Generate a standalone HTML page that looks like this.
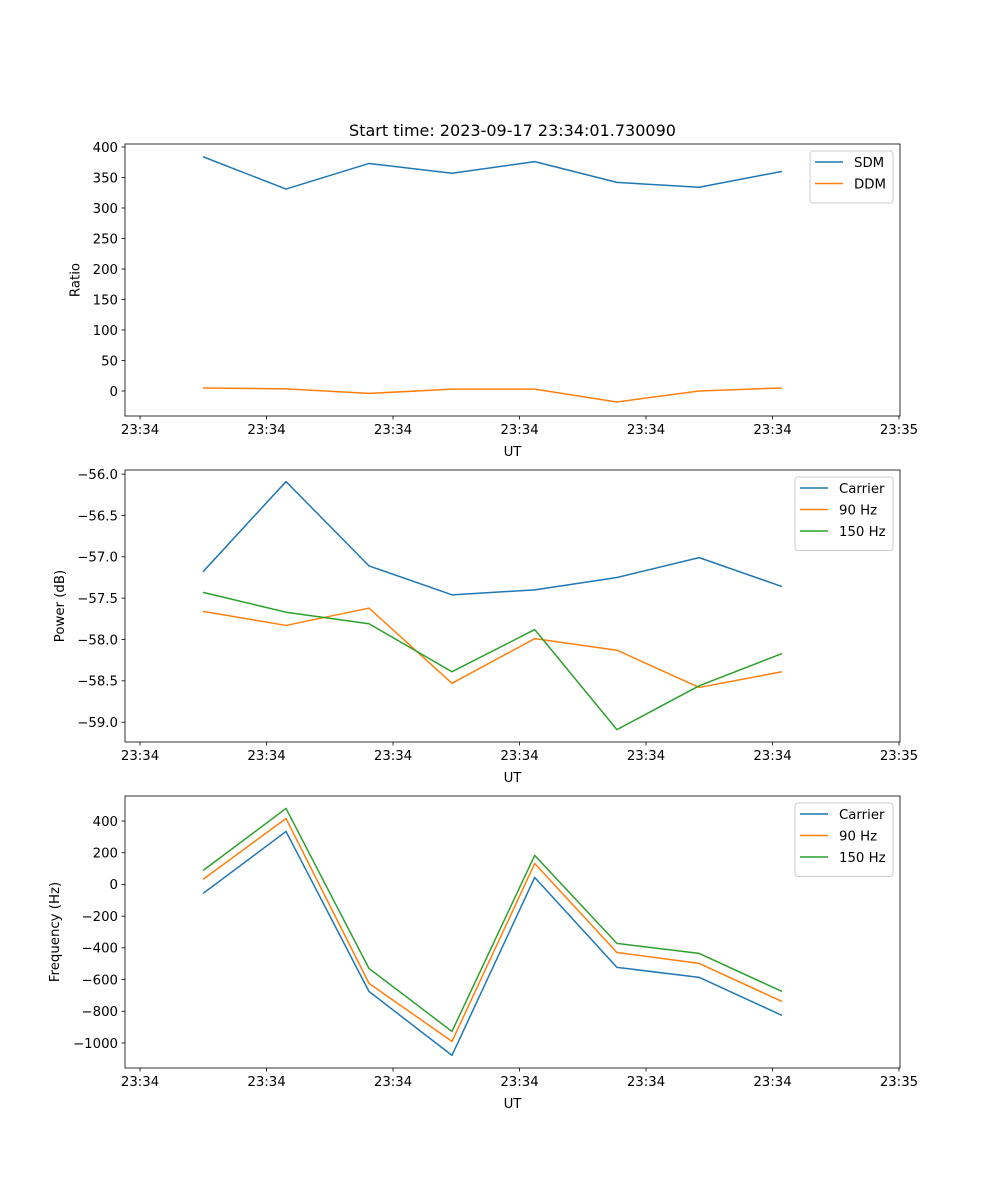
<!DOCTYPE html>
<html><head><meta charset="utf-8"><style>
body{margin:0;background:#fff}
svg{display:block;font-family:"DejaVu Sans","Liberation Sans",sans-serif}
</style></head><body>
<svg id="fig" width="1000" height="1200" viewBox="0 0 1000 1200" xmlns="http://www.w3.org/2000/svg">
<rect width="1000" height="1200" fill="#fff"/>
<text x="512.5" y="136" font-size="16" text-anchor="middle">Start time: 2023-09-17 23:34:01.730090</text>
</svg>
<script>
// time in seconds after 23:34:00
const times = [4.98, 11.54, 18.1, 24.66, 31.2, 37.7, 44.2, 50.75];
const xTickVals = [0, 10, 20, 30, 40, 50, 60];
const xTickLabels = ["23:34","23:34","23:34","23:34","23:34","23:34","23:35"];
const sdm = [384, 331, 373, 357, 376, 342, 334, 360];
const ddm = [5, 3.5, -4, 3, 3, -18, 0, 5];
const pwrCarrier = [-57.18, -56.09, -57.11, -57.46, -57.40, -57.25, -57.01, -57.36];
const pwr90 = [-57.66, -57.83, -57.62, -58.53, -57.99, -58.13, -58.58, -58.39];
const pwr150 = [-57.43, -57.67, -57.81, -58.39, -57.88, -59.09, -58.56, -58.17];
const frqCarrier = [-57, 334, -675, -1078, 44, -523, -586, -826];
const frq90 = [32, 416, -624, -990, 132, -429, -498, -738];
const frq150 = [88, 479, -530, -927, 183, -372, -435, -675];
const ratioTicks = [0, 50, 100, 150, 200, 250, 300, 350, 400];
const powerTicks = [-59.0, -58.5, -58.0, -57.5, -57.0, -56.5, -56.0];
const freqTicks = [-1000, -800, -600, -400, -200, 0, 200, 400];

const NS = "http://www.w3.org/2000/svg";
const svg = document.getElementById("fig");
function el(tag, attrs, parent) {
  const e = document.createElementNS(NS, tag);
  for (const k in attrs) e.setAttribute(k, attrs[k]);
  (parent || svg).appendChild(e);
  return e;
}
const L = 125, R = 900;
const xmin = -1.19, xmax = 60.08;
const sx = v => L + (v - xmin) / (xmax - xmin) * (R - L);

function panel(name, top, bottom, ymin, ymax, yticks, fmt, ylabel, ylabelX, series, legend) {
  const sy = v => bottom - (v - ymin) / (ymax - ymin) * (bottom - top);
  const g = el("g", {});
  
  
  series.forEach(s => {
    const pts = times.map((t, i) => sx(t).toFixed(2) + "," + sy(s.vals[i]).toFixed(2)).join(" ");
    const p = el("polyline", {points: pts, fill: "none", stroke: s.color, "stroke-width": 1.5, "stroke-linejoin": "round"}, g);
    
    
  });
  const f = el("rect", {x: L, y: top, width: R - L, height: bottom - top, fill: "none", stroke: "#000", "stroke-width": 0.8}, g);
  
  
  xTickVals.forEach((v, i) => {
    const x = sx(v);
    el("line", {x1: x, x2: x, y1: bottom, y2: bottom + 3.5, stroke: "#000", "stroke-width": 0.8}, g);
    const t = el("text", {x: x, y: bottom + 18, "font-size": 13.3, "text-anchor": "middle"}, g);
    
    
    t.textContent = xTickLabels[i];
  });
  const xl = el("text", {x: 512.5, y: bottom + 40, "font-size": 13.3, "text-anchor": "middle"}, g);
  
  
  xl.textContent = "UT";
  yticks.forEach(v => {
    const y = sy(v);
    el("line", {x1: L - 3.5, x2: L, y1: y, y2: y, stroke: "#000", "stroke-width": 0.8}, g);
    const t = el("text", {x: L - 7, y: y + 4.8, "font-size": 13.3, "text-anchor": "end"}, g);
    
    
    t.textContent = fmt(v);
  });
  const yc = (top + bottom) / 2;
  const yl = el("text", {x: ylabelX, y: yc, "font-size": 13.3, "text-anchor": "middle", transform: `rotate(-90 ${ylabelX} ${yc})`}, g);
  
  
  yl.textContent = ylabel;
  const lg = el("g", {}, g);
  
  
  el("rect", {x: legend.x, y: legend.y, width: 893 - legend.x, height: series.length * 21.5 + 9, rx: 3, fill: "#fff", "fill-opacity": 0.8, stroke: "#ccc", "stroke-width": 1}, lg);
  series.forEach((s, i) => {
    const y = legend.y + 11 + i * 21.5;
    el("line", {x1: legend.x + 5, x2: legend.x + 33, y1: y, y2: y, stroke: s.color, "stroke-width": 1.5}, lg);
    const t = el("text", {x: legend.x + 44, y: y + 4.8, "font-size": 13.3}, lg);
    
    
    t.textContent = s.label;
  });
}
const B = "#1f77b4", O = "#ff7f0e", G = "#2ca02c";
panel("ratio", 144, 416, -41, 404.9, ratioTicks, v => String(v), "Ratio", 79.5,
  [{key: "sdm", label: "SDM", vals: sdm, color: B}, {key: "ddm", label: "DDM", vals: ddm, color: O}], {x: 810, y: 151});
panel("power", 470, 742, -59.24, -55.95, powerTicks, v => "\u2212" + Math.abs(v).toFixed(1), "Power (dB)", 64,
  [{key: "carrier", label: "Carrier", vals: pwrCarrier, color: B}, {key: "90hz", label: "90 Hz", vals: pwr90, color: O}, {key: "150hz", label: "150 Hz", vals: pwr150, color: G}], {x: 795, y: 477});
panel("frequency", 796, 1068, -1157.6, 557.6, freqTicks, v => v < 0 ? "\u2212" + Math.abs(v) : String(v), "Frequency (Hz)", 59,
  [{key: "carrier", label: "Carrier", vals: frqCarrier, color: B}, {key: "90hz", label: "90 Hz", vals: frq90, color: O}, {key: "150hz", label: "150 Hz", vals: frq150, color: G}], {x: 795, y: 803});
</script>
</body></html>
